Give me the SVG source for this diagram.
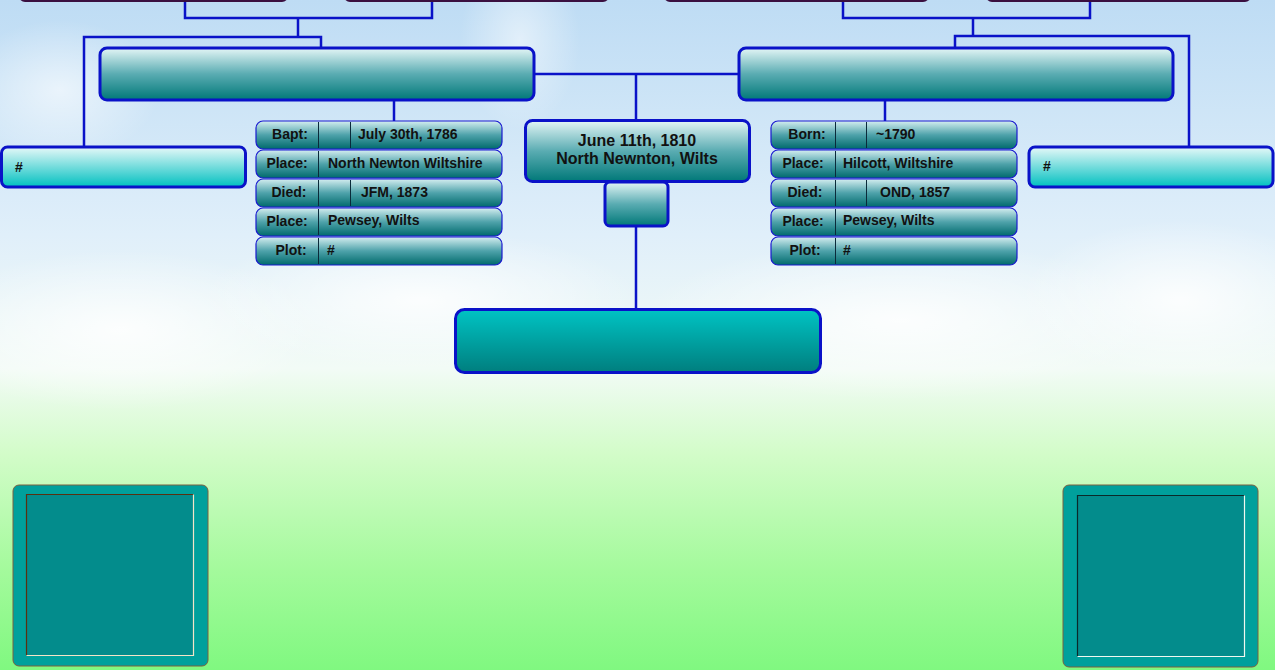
<svg xmlns="http://www.w3.org/2000/svg" width="1275" height="670" viewBox="0 0 1275 670">
<defs>
<linearGradient id="sky" x1="0" y1="0" x2="0" y2="1">
<stop offset="0" stop-color="#bedcf4"/>
<stop offset="0.35" stop-color="#e0effa"/>
<stop offset="0.55" stop-color="#f2fbf6"/>
<stop offset="0.68" stop-color="#d2fcc8"/>
<stop offset="0.85" stop-color="#a4fa9c"/>
<stop offset="1" stop-color="#80f880"/>
</linearGradient>
<radialGradient id="cloud">
<stop offset="0" stop-color="#ffffff" stop-opacity="0.85"/>
<stop offset="1" stop-color="#ffffff" stop-opacity="0"/>
</radialGradient>
<linearGradient id="big" x1="0" y1="0" x2="0" y2="1">
<stop offset="0" stop-color="#e4f6f6"/>
<stop offset="0.5" stop-color="#5aacb2"/>
<stop offset="1" stop-color="#007878"/>
</linearGradient>
<linearGradient id="row" x1="0" y1="0" x2="0" y2="1">
<stop offset="0" stop-color="#d4eef0"/>
<stop offset="0.5" stop-color="#4ea2aa"/>
<stop offset="1" stop-color="#006a6c"/>
</linearGradient>
<linearGradient id="side" x1="0" y1="0" x2="0" y2="1">
<stop offset="0" stop-color="#e6f8f8"/>
<stop offset="1" stop-color="#00c0c0"/>
</linearGradient>
<linearGradient id="child" x1="0" y1="0" x2="0" y2="1">
<stop offset="0" stop-color="#00c4c4"/>
<stop offset="1" stop-color="#007e7e"/>
</linearGradient>
<style>
.ln{fill:none;stroke:#0a12c8;stroke-width:2.5}
.box{stroke:#0a12c8;stroke-width:3}
.rw{fill:url(#row);stroke:#1a1ad0;stroke-width:1.2}
.dv{stroke:#0a2a3a;stroke-width:1}
.t{font-family:"Liberation Sans",Arial,sans-serif;font-weight:bold;font-size:14px;fill:#111}
.tc{font-family:"Liberation Sans",Arial,sans-serif;font-weight:bold;font-size:16px;fill:#111;text-anchor:middle}
.top{fill:#4a1850;stroke:#3a1040;stroke-width:2}
</style>
</defs>
<rect width="1275" height="670" fill="url(#sky)"/>
<ellipse cx="120" cy="330" rx="200" ry="80" fill="url(#cloud)"/>
<ellipse cx="420" cy="300" rx="220" ry="70" fill="url(#cloud)"/>
<ellipse cx="900" cy="320" rx="260" ry="80" fill="url(#cloud)"/>
<ellipse cx="1180" cy="300" rx="160" ry="80" fill="url(#cloud)"/>
<ellipse cx="520" cy="40" rx="60" ry="90" fill="url(#cloud)" opacity="0.6"/>
<ellipse cx="60" cy="90" rx="100" ry="70" fill="url(#cloud)" opacity="0.7"/>

<g id="connectors">
<path class="ln" d="M185 0V18H432V0"/>
<path class="ln" d="M298 18V37"/>
<path class="ln" d="M84 147V37H321V48"/>
<path class="ln" d="M843 0V18H1090V0"/>
<path class="ln" d="M973 18V36"/>
<path class="ln" d="M955 48V36H1189V147"/>
<path class="ln" d="M534 74H739"/>
<path class="ln" d="M636 74V120"/>
<path class="ln" d="M394 100V121"/>
<path class="ln" d="M885 100V121"/>
<path class="ln" d="M636 226V310"/>
</g>

<g id="gp1"><rect class="top" x="20" y="-20" width="267" height="21" rx="5"/></g>
<g id="gp2"><rect class="top" x="345" y="-20" width="263" height="21" rx="5"/></g>
<g id="gp3"><rect class="top" x="665" y="-20" width="263" height="21" rx="5"/></g>
<g id="gp4"><rect class="top" x="987" y="-20" width="263" height="21" rx="5"/></g>

<g id="father"><rect class="box" x="100" y="48" width="434" height="52" rx="7" fill="url(#big)"/></g>
<g id="mother"><rect class="box" x="739" y="48" width="434" height="52" rx="7" fill="url(#big)"/></g>

<g id="father-sibling">
<rect class="box" x="1.5" y="147" width="244" height="40" rx="6" fill="url(#side)"/>
<text class="t" x="15" y="172">#</text>
</g>
<g id="mother-sibling">
<rect class="box" x="1029" y="147" width="244" height="40" rx="6" fill="url(#side)"/>
<text class="t" x="1043" y="171">#</text>
</g>

<g id="father-details">
<rect class="rw" x="256" y="121" width="246" height="28" rx="7"/>
<rect class="rw" x="256" y="150" width="246" height="28" rx="7"/>
<rect class="rw" x="256" y="179" width="246" height="28" rx="7"/>
<rect class="rw" x="256" y="208" width="246" height="28" rx="7"/>
<rect class="rw" x="256" y="237" width="246" height="28" rx="7"/>
<path class="dv" d="M318.5 122V148M318.5 151V177M318.5 180V206M318.5 209V235M318.5 238V264M350.5 122V148M350.5 180V206"/>
<text class="t" x="290" y="139" text-anchor="middle">Bapt:</text>
<text class="t" x="358" y="139">July 30th, 1786</text>
<text class="t" x="287" y="168" text-anchor="middle">Place:</text>
<text class="t" x="328" y="168">North Newton Wiltshire</text>
<text class="t" x="289" y="197" text-anchor="middle">Died:</text>
<text class="t" x="361" y="197">JFM, 1873</text>
<text class="t" x="287" y="226" text-anchor="middle">Place:</text>
<text class="t" x="328" y="225">Pewsey, Wilts</text>
<text class="t" x="291" y="255" text-anchor="middle">Plot:</text>
<text class="t" x="327" y="255">#</text>
</g>

<g id="mother-details">
<rect class="rw" x="771" y="121" width="246" height="28" rx="7"/>
<rect class="rw" x="771" y="150" width="246" height="28" rx="7"/>
<rect class="rw" x="771" y="179" width="246" height="28" rx="7"/>
<rect class="rw" x="771" y="208" width="246" height="28" rx="7"/>
<rect class="rw" x="771" y="237" width="246" height="28" rx="7"/>
<path class="dv" d="M835.5 122V148M835.5 151V177M835.5 180V206M835.5 209V235M835.5 238V264M866.5 122V148M866.5 180V206"/>
<text class="t" x="807" y="139" text-anchor="middle">Born:</text>
<text class="t" x="876" y="139">~1790</text>
<text class="t" x="803" y="168" text-anchor="middle">Place:</text>
<text class="t" x="843" y="168">Hilcott, Wiltshire</text>
<text class="t" x="805" y="197" text-anchor="middle">Died:</text>
<text class="t" x="880" y="197">OND, 1857</text>
<text class="t" x="803" y="226" text-anchor="middle">Place:</text>
<text class="t" x="843" y="225">Pewsey, Wilts</text>
<text class="t" x="805" y="255" text-anchor="middle">Plot:</text>
<text class="t" x="843" y="255">#</text>
</g>

<g id="marriage">
<rect class="box" x="525.5" y="120.5" width="224" height="61" rx="7" fill="url(#big)"/>
<text class="tc" x="637" y="146">June 11th, 1810</text>
<text class="tc" x="637" y="164">North Newnton, Wilts</text>
</g>
<g id="marriage-tab">
<rect class="box" x="605" y="182" width="63" height="44" rx="5" fill="url(#big)"/>
</g>

<g id="child">
<rect class="box" x="455.5" y="309.5" width="365" height="63" rx="9" fill="url(#child)"/>
</g>

<g id="photo-left">
<rect x="13" y="485" width="195" height="181" rx="6" fill="#00a09c" stroke="#7a6040" stroke-width="1"/>
<rect x="26.5" y="494.5" width="167" height="161" fill="#038c8c"/>
<path d="M26.5 655.5V494.5H193.5" fill="none" stroke="#5a3010" stroke-width="1.2"/>
<path d="M26.5 655.5H193.5V494.5" fill="none" stroke="#f4e4c8" stroke-width="1.2"/>
</g>
<g id="photo-right">
<rect x="1063" y="485" width="195" height="182" rx="6" fill="#00a09c" stroke="#7a6040" stroke-width="1"/>
<rect x="1077.5" y="495.5" width="167" height="161" fill="#038c8c"/>
<path d="M1077.5 656.5V495.5H1244.5" fill="none" stroke="#0a2a2a" stroke-width="1.2"/>
<path d="M1077.5 656.5H1244.5V495.5" fill="none" stroke="#f0f8f0" stroke-width="1.2"/>
</g>
</svg>
